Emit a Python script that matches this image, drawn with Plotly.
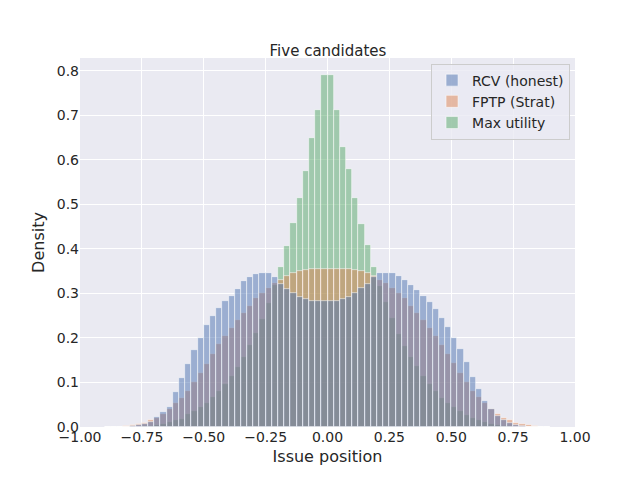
import numpy as np
import plotly.graph_objects as go

# bin edges every 0.025 from -0.9 to 0.9 (72 bins), centers listed left to right
bin_left = [round(-0.9 + 0.025 * k, 4) for k in range(72)]

rcv_honest = [0, 0, 0, 0.001, 0.002, 0.004, 0.007, 0.012, 0.023, 0.034, 0.045, 0.078,
              0.109, 0.142, 0.173, 0.201, 0.229, 0.249, 0.267, 0.283, 0.294, 0.310, 0.327, 0.337,
              0.343, 0.347, 0.347, 0.337, 0.322, 0.311, 0.300, 0.292, 0.287, 0.284, 0.283, 0.283,
              0.283, 0.284, 0.288, 0.293, 0.300, 0.312, 0.322, 0.336, 0.346, 0.347, 0.346, 0.340,
              0.330, 0.320, 0.308, 0.295, 0.280, 0.265, 0.245, 0.225, 0.200, 0.175, 0.145, 0.113,
              0.085, 0.058, 0.040, 0.025, 0.015, 0.009, 0.005, 0.003, 0.001, 0, 0, 0]
fptp_strat = [0, 0, 0.001, 0.002, 0.004, 0.007, 0.010, 0.015, 0.021, 0.030, 0.040, 0.054,
              0.066, 0.082, 0.102, 0.122, 0.142, 0.165, 0.186, 0.204, 0.222, 0.240, 0.257, 0.271,
              0.289, 0.301, 0.313, 0.324, 0.330, 0.340, 0.345, 0.350, 0.352, 0.355, 0.355, 0.355,
              0.355, 0.355, 0.355, 0.354, 0.352, 0.350, 0.346, 0.340, 0.330, 0.323, 0.312, 0.300,
              0.290, 0.272, 0.256, 0.240, 0.222, 0.205, 0.185, 0.165, 0.143, 0.122, 0.101, 0.082,
              0.067, 0.053, 0.040, 0.030, 0.021, 0.015, 0.010, 0.007, 0.004, 0.002, 0.001, 0]
max_utility = [0, 0, 0, 0, 0, 0.001, 0.002, 0.003, 0.005, 0.007, 0.011, 0.015,
               0.019, 0.029, 0.036, 0.044, 0.054, 0.067, 0.081, 0.097, 0.115, 0.135, 0.158, 0.184,
               0.211, 0.243, 0.279, 0.318, 0.360, 0.407, 0.458, 0.515, 0.576, 0.650, 0.712, 0.790,
               0.790, 0.712, 0.630, 0.580, 0.515, 0.457, 0.410, 0.360, 0.316, 0.280, 0.244, 0.210,
               0.183, 0.157, 0.136, 0.114, 0.096, 0.080, 0.066, 0.055, 0.044, 0.035, 0.028, 0.020,
               0.015, 0.011, 0.007, 0.005, 0.003, 0.002, 0.001, 0, 0, 0, 0, 0]

# drawn in reverse (like seaborn hue layers), legend shown in original order
series = [("Max utility", max_utility, "rgba(85,168,104,0.5)"),
          ("FPTP (Strat)", fptp_strat, "rgba(221,132,82,0.5)"),
          ("RCV (honest)", rcv_honest, "rgba(76,114,176,0.5)")]

width = 0.025
centers = [b + width / 2 for b in bin_left]

fig = go.Figure()
for name, vals, col in series:
    fig.add_trace(go.Bar(x=centers, y=vals, width=width, name=name,
                         marker=dict(color=col,
                                     line=dict(color="rgba(255,255,255,0.75)", width=0.7))))

font = "DejaVu Sans"
fig.update_layout(
    width=640, height=480, barmode="overlay", bargap=0,
    paper_bgcolor="white", plot_bgcolor="#EAEAF2",
    margin=dict(l=72, r=73, t=50, b=61),
    font=dict(family=font, size=14, color="#262626"),
    title=dict(text="Five candidates", x=0.5, xanchor="center", y=0.91, yanchor="middle",
               font=dict(size=15)),
    legend=dict(x=0.99, y=0.985, xanchor="right", yanchor="top", traceorder="reversed",
                bgcolor="rgba(234,234,242,0.8)", bordercolor="#CCCCCC", borderwidth=1,
                font=dict(size=14)),
    xaxis=dict(range=[-1, 1], tickmode="array", tickvals=[-1, -0.75, -0.5, -0.25, 0, 0.25, 0.5, 0.75, 1],
               tickformat=".2f", gridcolor="white", gridwidth=1.2, zeroline=False, showline=False,
               automargin=False,
               title=dict(text="Issue position", font=dict(size=16), standoff=6), ticks=""),
    yaxis=dict(range=[0, 0.829], tickmode="array", tickvals=[0, 0.1, 0.2, 0.3, 0.4, 0.5, 0.6, 0.7, 0.8],
               tickformat=".1f", gridcolor="white", gridwidth=1.2, zeroline=False, showline=False,
               automargin=False,
               title=dict(text="Density", font=dict(size=16), standoff=8), ticks=""),
)
fig.write_html("out.html")
